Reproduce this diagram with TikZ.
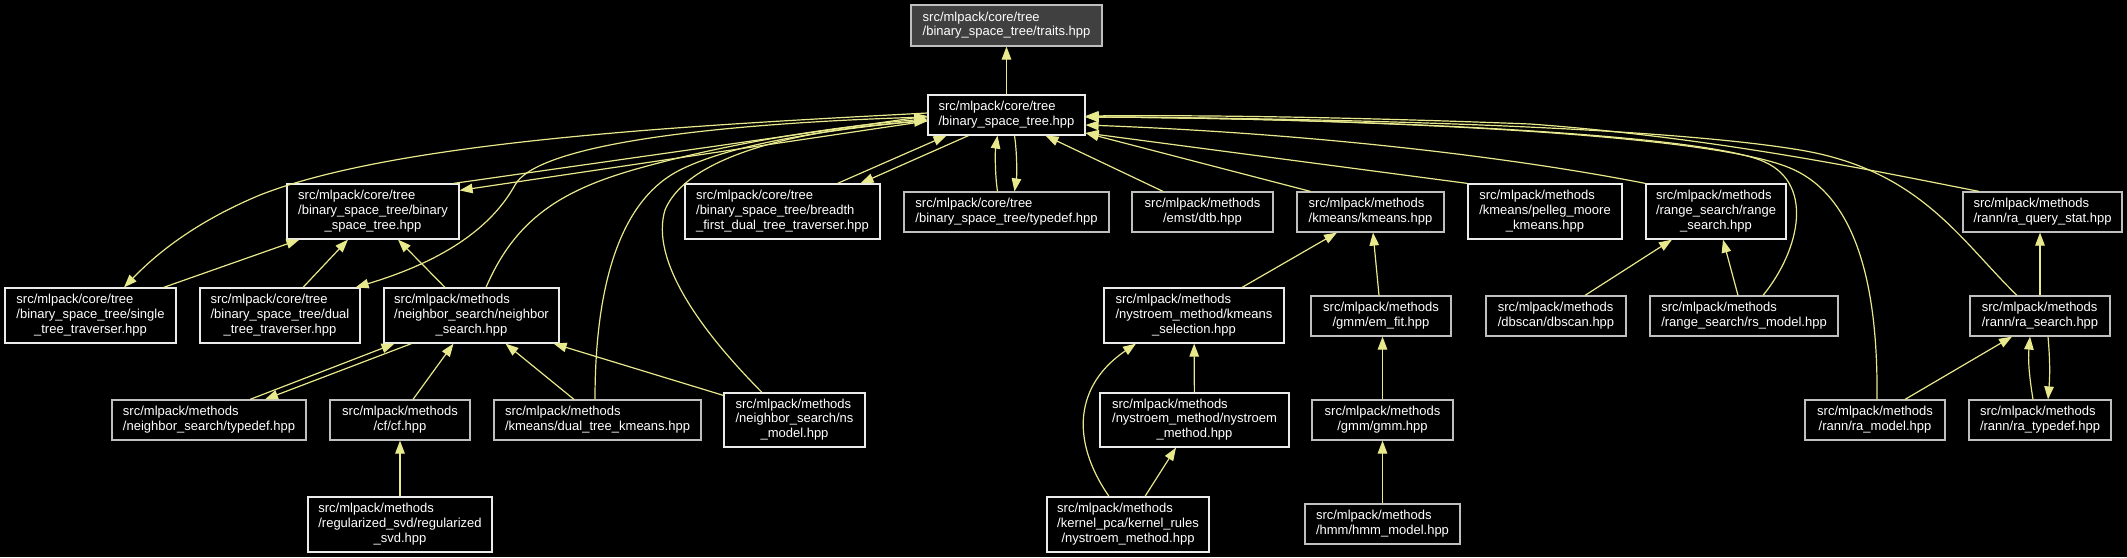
\documentclass[tikz,border=0pt]{standalone}
\usepackage{fontspec}
\setmainfont{Liberation Sans}
\usetikzlibrary{arrows.meta}
\definecolor{edgec}{RGB}{232,232,140}
\definecolor{bwhite}{RGB}{235,235,235}
\definecolor{bgray}{RGB}{191,191,191}
\definecolor{tfill}{RGB}{64,64,64}
\newcommand\lbl[2]{\begin{tabular}{@{}l@{}}#1\\\multicolumn{1}{@{}c@{}}{#2}\end{tabular}}
\tikzset{
  nbox/.style={draw=bwhite, fill=black, text=white, inner sep=0pt, line width=1.2pt,
    font=\fontsize{13}{14.7}\selectfont},
  three/.style={nbox, minimum height=55pt},
  two/.style={nbox, minimum height=40pt},
  grayb/.style={draw=bgray},
  edge/.style={draw=edgec, line width=1.2pt, -{Triangle[length=13pt,width=9.5pt]}}
}
\begin{document}
\begin{tikzpicture}[x=1pt,y=-1pt]
\fill[black] (0,0) rectangle (2127,557);
% row 0/1
\node[two, grayb, fill=tfill, minimum height=41pt, minimum width=191pt] (traits) at (1006.5,25.5) {\lbl{src/mlpack/core/tree}{/binary\_space\_tree/traits.hpp}};
\node[two, minimum width=157pt] (bst) at (1006.5,115) {\lbl{src/mlpack/core/tree}{/binary\_space\_tree.hpp}};
% row 2
\node[three, minimum width=172pt] (binary) at (373,211.5) {\lbl{src/mlpack/core/tree\\/binary\_space\_tree/binary}{\_space\_tree.hpp}};
\node[three, minimum width=195pt] (breadth) at (782.5,211.5) {\lbl{src/mlpack/core/tree\\/binary\_space\_tree/breadth}{\_first\_dual\_tree\_traverser.hpp}};
\node[two, grayb, minimum width=205pt] (typedefbst) at (1006.5,212) {\lbl{src/mlpack/core/tree}{/binary\_space\_tree/typedef.hpp}};
\node[two, grayb, minimum width=141pt] (dtb) at (1202.5,212) {\lbl{src/mlpack/methods}{/emst/dtb.hpp}};
\node[two, grayb, minimum width=147pt] (kmeans) at (1370.5,212) {\lbl{src/mlpack/methods}{/kmeans/kmeans.hpp}};
\node[three, minimum width=154pt] (pelleg) at (1545,211.5) {\lbl{src/mlpack/methods\\/kmeans/pelleg\_moore}{\_kmeans.hpp}};
\node[three, minimum width=140pt] (rangesearch) at (1716,211.5) {\lbl{src/mlpack/methods\\/range\_search/range}{\_search.hpp}};
\node[two, grayb, minimum width=159pt] (raquery) at (2042.5,212) {\lbl{src/mlpack/methods}{/rann/ra\_query\_stat.hpp}};
% row 3
\node[three, minimum width=171pt] (single) at (90.5,315.5) {\lbl{src/mlpack/core/tree\\/binary\_space\_tree/single}{\_tree\_traverser.hpp}};
\node[three, minimum width=160pt] (dual) at (280,315.5) {\lbl{src/mlpack/core/tree\\/binary\_space\_tree/dual}{\_tree\_traverser.hpp}};
\node[three, minimum width=175pt] (ns) at (471.5,315.5) {\lbl{src/mlpack/methods\\/neighbor\_search/neighbor}{\_search.hpp}};
\node[three, minimum width=180pt] (kmsel) at (1194,315.5) {\lbl{src/mlpack/methods\\/nystroem\_method/kmeans}{\_selection.hpp}};
\node[two, grayb, minimum width=140pt] (emfit) at (1381,316) {\lbl{src/mlpack/methods}{/gmm/em\_fit.hpp}};
\node[two, grayb, minimum width=140pt] (dbscan) at (1556,316) {\lbl{src/mlpack/methods}{/dbscan/dbscan.hpp}};
\node[two, grayb, minimum width=188pt] (rsmodel) at (1744,316) {\lbl{src/mlpack/methods}{/range\_search/rs\_model.hpp}};
\node[two, grayb, minimum width=140pt] (rasearch) at (2040,316) {\lbl{src/mlpack/methods}{/rann/ra\_search.hpp}};
% row 4
\node[two, grayb, minimum width=194pt] (nstypedef) at (209,420) {\lbl{src/mlpack/methods}{/neighbor\_search/typedef.hpp}};
\node[two, grayb, minimum width=140pt] (cf) at (400,420) {\lbl{src/mlpack/methods}{/cf/cf.hpp}};
\node[two, grayb, minimum width=207pt] (dtkmeans) at (597.5,420) {\lbl{src/mlpack/methods}{/kmeans/dual\_tree\_kmeans.hpp}};
\node[three, minimum height=54pt, minimum width=141pt] (nsmodel) at (794.5,420) {\lbl{src/mlpack/methods\\/neighbor\_search/ns}{\_model.hpp}};
\node[three, minimum height=54pt, minimum width=189pt] (nystroem) at (1194.5,420) {\lbl{src/mlpack/methods\\/nystroem\_method/nystroem}{\_method.hpp}};
\node[two, grayb, minimum width=141pt] (gmm) at (1382.5,420) {\lbl{src/mlpack/methods}{/gmm/gmm.hpp}};
\node[two, grayb, minimum width=140pt] (ramodel) at (1875,420) {\lbl{src/mlpack/methods}{/rann/ra\_model.hpp}};
\node[two, grayb, minimum width=142pt] (ratypedef) at (2040,420) {\lbl{src/mlpack/methods}{/rann/ra\_typedef.hpp}};
% row 5
\node[three, minimum width=184pt] (regsvd) at (400,524.5) {\lbl{src/mlpack/methods\\/regularized\_svd/regularized}{\_svd.hpp}};
\node[three, minimum width=162pt] (kernel) at (1128,524.5) {\lbl{src/mlpack/methods\\/kernel\_pca/kernel\_rules}{/nystroem\_method.hpp}};
\node[two, grayb, minimum width=155pt] (hmm) at (1382.5,524) {\lbl{src/mlpack/methods}{/hmm/hmm\_model.hpp}};

% ---- edges ----
\draw[edge] (bst) -- (traits);
\draw[edge] ([yshift=-6pt]bst.west) -- ([yshift=-7pt]binary.north east);
\draw[edge] ([xshift=-6pt]binary.north east) -- ([yshift=-1pt]bst.west);
\draw[edge] ([xshift=-38pt]bst.south) -- ([xshift=78pt]breadth.north);
\draw[edge] ([xshift=55pt]breadth.north) -- ([xshift=-60pt]bst.south);
\draw[edge] ([xshift=-9pt]typedefbst.north) .. controls (995,175) and (995,152) .. ([xshift=-9pt]bst.south);
\draw[edge] ([xshift=8pt]bst.south) .. controls (1017,152) and (1017,175) .. ([xshift=8pt]typedefbst.north);
\draw[edge] ([xshift=-39.5pt]dtb.north) -- ([xshift=39pt]bst.south);
\draw[edge] ([xshift=-60pt]kmeans.north) -- ([yshift=-18pt]bst.east);
\draw[edge] (pelleg.north west) -- ([yshift=-18pt]bst.east);
\draw[edge] (rangesearch.north west) .. controls (1500,155) and (1300,133) .. ([yshift=-10pt]bst.east);
\draw[edge] ([xshift=-63.5pt]raquery.north) .. controls (1880,172) and (1720,138) .. (1530,124) .. controls (1350,117) and (1200,115) .. ([yshift=-1pt]bst.east);
\draw[edge] ([xshift=19pt]rsmodel.north) .. controls (1800,250) and (1816,181) .. (1760,160) .. controls (1680,130) and (1300,118) .. ([yshift=-2pt]bst.east);
\draw[edge] ([xshift=-23pt]rasearch.north) .. controls (1960,240) and (1920,170) .. (1800,150) .. controls (1650,125) and (1300,118) .. ([yshift=-2pt]bst.east);
\draw[edge] ([xshift=2pt]ramodel.north) .. controls (1878,300) and (1862,198) .. (1790,168) .. controls (1700,130) and (1300,118) .. ([yshift=-2pt]bst.east);
% left side
\draw[edge] ([yshift=2pt]bst.west) .. controls (700,125) and (400,140) .. (260,195) .. controls (200,220) and (160,250) .. ([xshift=33.5pt]single.north);
\draw[edge] ([yshift=-2pt]bst.west) .. controls (750,122) and (540,140) .. (515,185) .. controls (490,230) and (440,262) .. ([xshift=-5pt]dual.north east);
\draw[edge] ([xshift=14.5pt]ns.north) .. controls (515,220) and (560,190) .. (640,168) .. controls (740,140) and (850,125) .. ([yshift=-4pt]bst.west);
\draw[edge] ([xshift=-2.5pt]dtkmeans.north) .. controls (595,300) and (614,203) .. (680,170) .. controls (740,140) and (850,128) .. ([yshift=-5pt]bst.west);
\draw[edge] ([xshift=-32.5pt]nsmodel.north) .. controls (700,330) and (650,260) .. (665,210) .. controls (690,150) and (820,128) .. ([yshift=-6pt]bst.west);
% binary
\draw[edge] ([xshift=-13pt]single.north east) -- ([xshift=13pt]binary.south west);
\draw[edge] ([xshift=23pt]dual.north) -- ([xshift=-25pt]binary.south);
\draw[edge] ([xshift=-26.5pt]ns.north) -- ([xshift=25pt]binary.south);
% neighbor search
\draw[edge] ([xshift=41pt]nstypedef.north) -- ([xshift=-77pt]ns.south);
\draw[edge] ([xshift=-60pt]ns.south) -- ([xshift=56pt]nstypedef.north);
\draw[edge] ([xshift=13pt]cf.north) -- ([xshift=-18pt]ns.south);
\draw[edge] ([xshift=-23.5pt]dtkmeans.north) -- ([xshift=34pt]ns.south);
\draw[edge] ([yshift=-3pt]nsmodel.north west) -- ([xshift=-6pt]ns.south east);
\draw[edge] (regsvd) -- (cf);
% middle
\draw[edge] ([xshift=48pt]kmsel.north) -- ([xshift=-33.5pt]kmeans.south);
\draw[edge] ([xshift=-2pt]emfit.north) -- ([xshift=2.5pt]kmeans.south);
\draw[edge] (nystroem) -- (kmsel);
\draw[edge] ([xshift=-19pt]kernel.north) .. controls (1070,440) and (1075,385) .. ([xshift=-58pt]kmsel.south);
\draw[edge] ([xshift=17pt]kernel.north) -- ([xshift=-18.5pt]nystroem.south);
\draw[edge] (gmm.north) -- (gmm.north |- emfit.south);
\draw[edge] (hmm.north) -- (hmm.north |- gmm.south);
% right
\draw[edge] ([xshift=29pt]dbscan.north) -- ([xshift=-44pt]rangesearch.south);
\draw[edge] ([xshift=-6pt]rsmodel.north) -- ([xshift=7pt]rangesearch.south);
\draw[edge] (rasearch.north) -- (rasearch.north |- raquery.south);
\draw[edge] ([xshift=30pt]ramodel.north) -- ([xshift=-28pt]rasearch.south);
\draw[edge] ([xshift=-7pt]ratypedef.north) .. controls (2029,375) and (2028,360) .. ([xshift=-10pt]rasearch.south);
\draw[edge] ([xshift=8pt]rasearch.south) .. controls (2050,360) and (2050,375) .. ([xshift=8pt]ratypedef.north);
\end{tikzpicture}
\end{document}
